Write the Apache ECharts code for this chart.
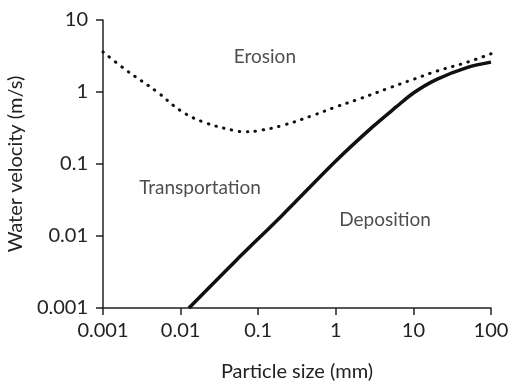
<!DOCTYPE html>
<html>
<head>
<meta charset="utf-8">
<script src="https://cdn.jsdelivr.net/npm/echarts@6/dist/echarts.min.js"></script>
<style>
  html, body { margin: 0; padding: 0; background: #fff; }
  #chart { width: 510px; height: 381px; }
</style>
</head>
<body>
<div id="chart"></div>
<script>
// particle size (mm) and water velocity (m/s)
const erosionSize = [0.001, 0.002, 0.005, 0.01, 0.02, 0.05, 0.07, 0.1, 0.2, 0.5, 1, 2, 5, 10, 20, 50, 100]
const erosionVel = [3.6, 2.0, 1.0, 0.55, 0.38, 0.29, 0.28, 0.29, 0.34, 0.47, 0.62, 0.8, 1.15, 1.5, 1.95, 2.6, 3.4]

const depositSize = [0.0128, 0.05, 0.2, 1, 3, 6, 10, 20, 50, 100]
const depositVel = [0.001, 0.0044, 0.019, 0.11, 0.33, 0.62, 0.97, 1.5, 2.2, 2.6]

const sizeTicks = [0.001, 0.01, 0.1, 1, 10, 100]
const velTicks = [0.001, 0.01, 0.1, 1, 10]

const regionNames = ['Erosion', 'Transportation', 'Deposition']
const regionSize = [0.122, 0.0178, 4.3]
const regionVel = [3.1, 0.047, 0.017]

const font = 'Lato'
const ink = '#222'

function fmt(v) {
  return String(+Number(v).toPrecision(1))
}

const chart = echarts.init(document.getElementById('chart'))
chart.setOption({
  animation: false,
  grid: {
    left: 103,
    right: 19,
    top: 20,
    bottom: 73,
    containLabel: false,
    outerBoundsMode: 'none'
  },
  xAxis: {
    type: 'log',
    logBase: 10,
    min: sizeTicks[0],
    max: sizeTicks[sizeTicks.length - 1],
    name: 'Particle size (mm)',
    nameLocation: 'middle',
    nameGap: 54,
    nameTextStyle: { fontFamily: font, fontSize: 20, color: ink },
    axisLine: { lineStyle: { color: ink, width: 1.5 } },
    axisTick: { length: 7, lineStyle: { color: ink, width: 1.5 } },
    minorTick: { show: false },
    splitLine: { show: false },
    axisLabel: {
      fontFamily: font, fontSize: 20, color: ink, margin: 13,
      formatter: fmt
    }
  },
  yAxis: {
    type: 'log',
    logBase: 10,
    min: velTicks[0],
    max: velTicks[velTicks.length - 1],
    name: 'Water velocity (m/s)',
    nameLocation: 'middle',
    nameGap: 74,
    nameTextStyle: { fontFamily: font, fontSize: 20, color: ink },
    axisLine: { lineStyle: { color: ink, width: 1.5 } },
    axisTick: { length: 7, lineStyle: { color: ink, width: 1.5 } },
    splitLine: { show: false },
    axisLabel: {
      fontFamily: font, fontSize: 20, color: ink, margin: 15,
      formatter: fmt
    }
  },
  series: [
    {
      name: 'Erosion',
      type: 'line',
      data: erosionSize.map((s, i) => [s, erosionVel[i]]),
      smooth: 0.4,
      symbol: 'none',
      lineStyle: { color: '#111', width: 3, type: [0.5, 7.5], cap: 'round' }
    },
    {
      name: 'Deposition',
      type: 'line',
      data: depositSize.map((s, i) => [s, depositVel[i]]),
      smooth: 0.3,
      symbol: 'none',
      lineStyle: { color: '#111', width: 3.5 }
    },
    {
      name: 'labels',
      type: 'scatter',
      symbolSize: 0,
      silent: true,
      data: regionNames.map((n, i) => ({ name: n, value: [regionSize[i], regionVel[i]] })),
      label: {
        show: true,
        position: 'inside',
        formatter: '{b}',
        fontFamily: font,
        fontSize: 19,
        color: ink
      }
    }
  ]
})
</script>
</body>
</html>
